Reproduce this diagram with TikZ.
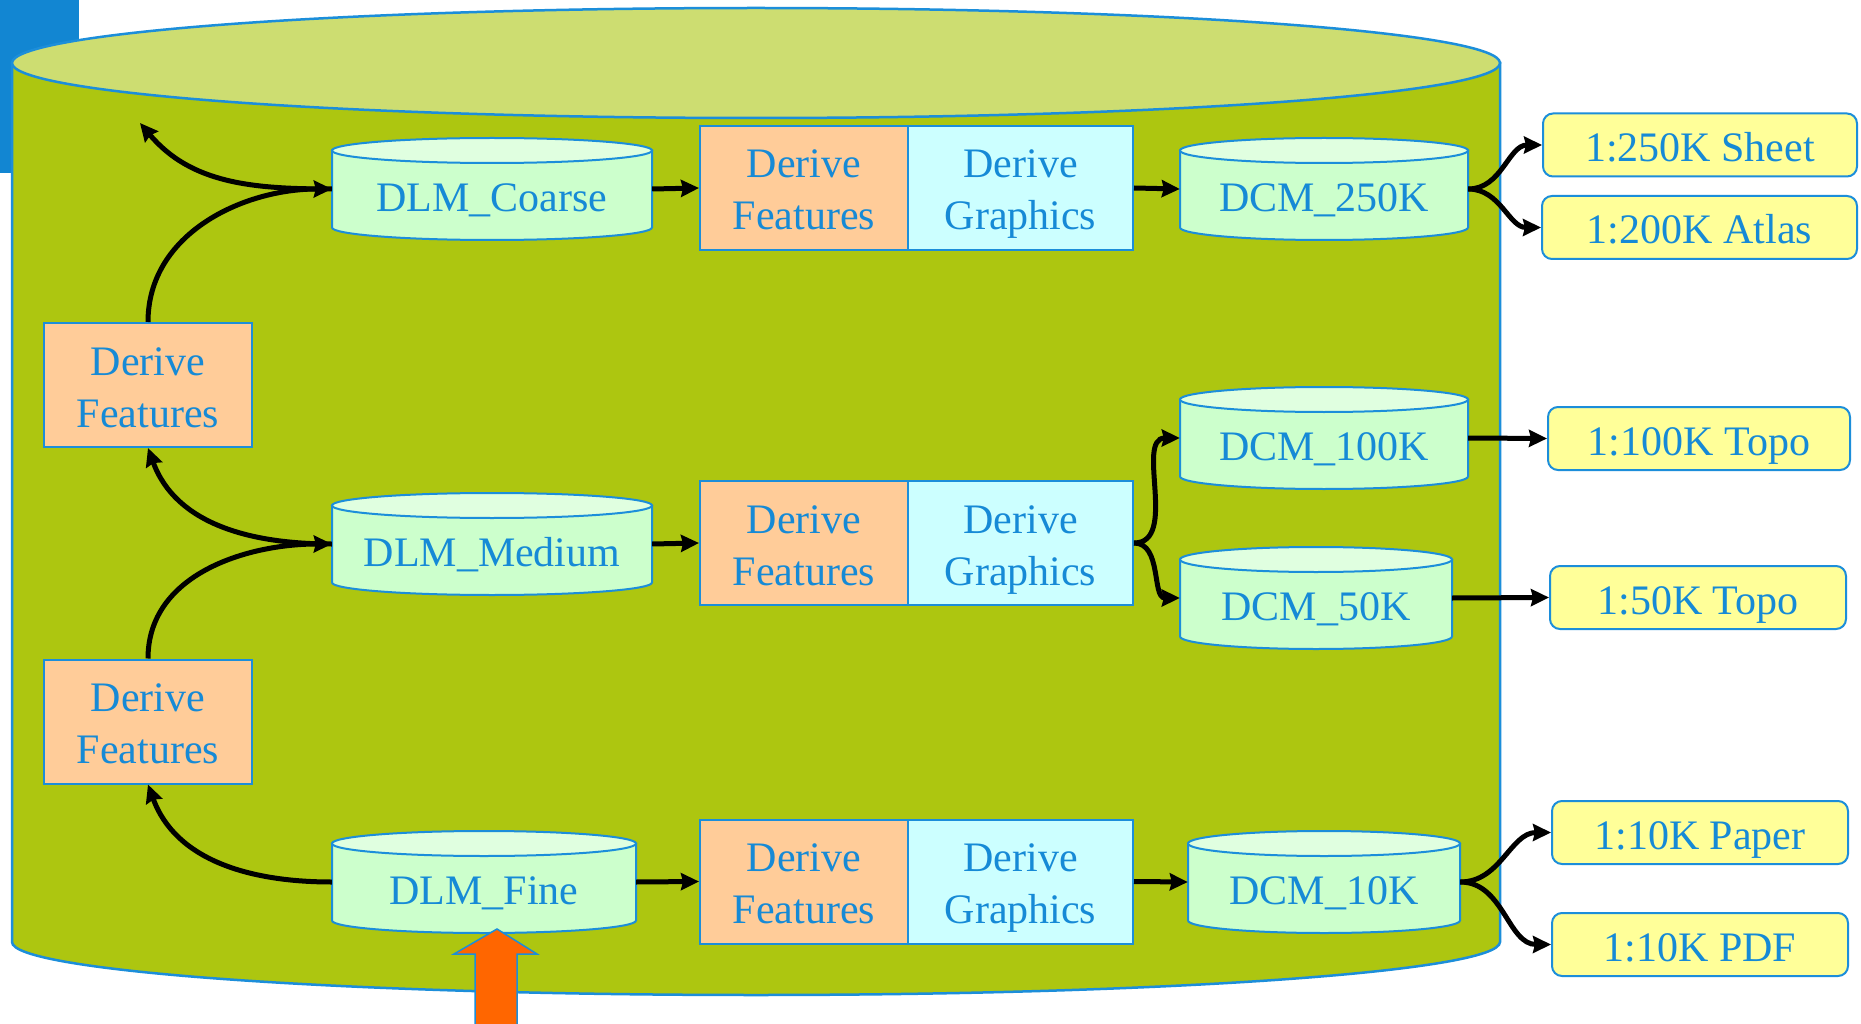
\documentclass[tikz,border=0pt]{standalone}
\usepackage{fontspec}
\setmainfont{Liberation Serif}
\usetikzlibrary{arrows.meta}
\definecolor{txtblue}{RGB}{22,138,214}
\definecolor{lineblue}{RGB}{28,142,218}
\definecolor{olive}{RGB}{173,198,16}
\definecolor{olivetop}{RGB}{205,221,113}
\definecolor{cylbody}{RGB}{204,255,204}
\definecolor{cyltopc}{RGB}{224,255,224}
\definecolor{peach}{RGB}{255,204,153}
\definecolor{paleblue}{RGB}{204,255,255}
\definecolor{paleyellow}{RGB}{255,255,153}
\definecolor{corner}{RGB}{18,134,210}
\definecolor{orangearrow}{RGB}{255,102,0}
\newcommand\twolines[2]{\raisebox{0pt}[32pt][0pt]{#1}\\\raisebox{0pt}[0pt][0pt]{#2}}
\tikzset{
  txt/.style={text=txtblue, font=\fontsize{42}{52}\selectfont, align=center, inner sep=0pt},
  cylside/.style={fill=cylbody, draw=lineblue, line width=2pt},
  cyltop/.style={fill=cyltopc, draw=lineblue, line width=2pt},
  cyltext/.style={txt, text height=45pt, text depth=0pt},
  dfbox/.style={txt, rectangle, fill=peach, draw=lineblue, line width=2pt, minimum width=208pt, minimum height=124pt},
  dgbox/.style={txt, rectangle, fill=paleblue, draw=lineblue, line width=2pt, minimum width=225pt, minimum height=124pt},
  outbox/.style={txt, rectangle, rounded corners=10pt, fill=paleyellow, draw=lineblue, line width=2pt, minimum height=63pt, text height=33pt, text depth=0pt},
  conn/.style={line width=5pt, -{Stealth[length=18pt,width=17pt,inset=2pt]}},
}
\newcommand\dbcyl[6]{%
  \pgfmathsetmacro\cxx{(#2+#4)/2}%
  \pgfmathsetmacro\rxx{(#4-#2)/2}%
  \pgfmathsetmacro\ha{-#3-12.5}%
  \pgfmathsetmacro\hb{-#5+12.5}%
  \filldraw[cylside] (#2,\ha) -- (#2,\hb) arc[start angle=180,end angle=360,x radius=\rxx,y radius=12.5] -- (#4,\ha) -- cycle;
  \filldraw[cyltop] (\cxx,\ha) ellipse[x radius=\rxx,y radius=12.5];
  \pgfmathsetmacro\cyy{(-#3-#5)/2}%
  \pgfmathsetmacro\hh{#5-#3}%
  \pgfmathsetmacro\ww{#4-#2}%
  \node[cyltext, minimum width=\ww pt, minimum height=\hh pt] (#1) at (\cxx,\cyy) {#6};
}
\begin{document}
\begin{tikzpicture}[x=1pt,y=1pt]
\clip (0,0) rectangle (1861,-1024);
\fill[white] (0,0) rectangle (1861,-1024);
% corner block
\fill[corner] (0,0) rectangle (79,-173);
% big cylinder
\filldraw[fill=olive, draw=lineblue, line width=2.5pt] (12,-63) -- (12,-942) arc[start angle=180,end angle=360,x radius=744,y radius=53] -- (1500,-63) -- cycle;
\filldraw[fill=olivetop, draw=lineblue, line width=2.5pt] (756,-63) ellipse[x radius=744,y radius=55];

% small cylinders
\dbcyl{dlmc}{332}{138}{652}{240}{DLM\_Coarse}
\dbcyl{dlmm}{332}{493}{652}{595}{DLM\_Medium}
\dbcyl{dlmf}{332}{831}{636}{933}{DLM\_Fine}
\dbcyl{dcmA}{1180}{138}{1468}{240}{DCM\_250K}
\dbcyl{dcmB}{1180}{387}{1468}{489}{DCM\_100K}
\dbcyl{dcmC}{1180}{547}{1452}{649}{DCM\_50K}
\dbcyl{dcmD}{1188}{831}{1460}{933}{DCM\_10K}

% left derive features
\node[dfbox] (lf1) at (148,-385) {\twolines{Derive}{Features}};
\node[dfbox] (lf2) at (148,-721.5) {\twolines{Derive}{Features}};

% process pairs
\node[dfbox] (ft) at (804,-188) {\twolines{Derive}{Features}};
\node[dgbox] (gt) at (1020.5,-188) {\twolines{Derive}{Graphics}};
\node[dfbox] (fm) at (804,-543) {\twolines{Derive}{Features}};
\node[dgbox] (gm) at (1020.5,-543) {\twolines{Derive}{Graphics}};
\node[dfbox] (fb) at (804,-881.5) {\twolines{Derive}{Features}};
\node[dgbox] (gb) at (1020.5,-881.5) {\twolines{Derive}{Graphics}};

% outputs
\node[outbox, minimum width=314pt] (o1) at (1700,-145) {1:250K Sheet};
\node[outbox, minimum width=315pt] (o2) at (1699.5,-227.5) {1:200K Atlas};
\node[outbox, minimum width=302pt] (o3) at (1699,-438.5) {1:100K Topo};
\node[outbox, minimum width=296pt] (o4) at (1698,-597.5) {1:50K Topo};
\node[outbox, minimum width=296pt] (o5) at (1700,-832.5) {1:10K Paper};
\node[outbox, minimum width=296pt] (o6) at (1700,-944.5) {1:10K PDF};

\coordinate (up) at (140,-123);

% connectors
\draw[conn] (dlmc.west) to[out=180,in=-50] (up);
\draw[conn] (lf1.north) to[out=90,in=180] (dlmc.west);
\draw[conn] (dlmm.west) to[out=180,in=-70] (lf1.south);
\draw[conn] (lf2.north) to[out=90,in=180] (dlmm.west);
\draw[conn] (dlmf.west) to[out=180,in=-70] (lf2.south);

\draw[conn] (dlmc.east) -- (ft.west);
\draw[conn] (gt.east) -- (dcmA.west);
\draw[conn] (dlmm.east) -- (fm.west);
\draw[conn] (dlmf.east) -- (fb.west);
\draw[conn] (gb.east) -- (dcmD.west);

\draw[conn] (dcmA.east) to[out=0,in=180] (o1.west);
\draw[conn] (dcmA.east) to[out=0,in=180] (o2.west);
\draw[conn] (gm.east) to[out=0,in=180] (dcmB.west);
\draw[conn] (gm.east) to[out=0,in=180] (dcmC.west);
\draw[conn] (dcmB.east) -- (o3.west);
\draw[conn] (dcmC.east) -- (o4.west);
\draw[conn] (dcmD.east) to[out=0,in=180] (o5.west);
\draw[conn] (dcmD.east) to[out=0,in=180] (o6.west);

% input arrow
\filldraw[fill=orangearrow, draw=lineblue, line width=1.5pt] (475,-1040) -- (475,-954) -- (454,-954) -- (497,-929) -- (537,-954) -- (517,-954) -- (517,-1040);
\end{tikzpicture}
\end{document}
